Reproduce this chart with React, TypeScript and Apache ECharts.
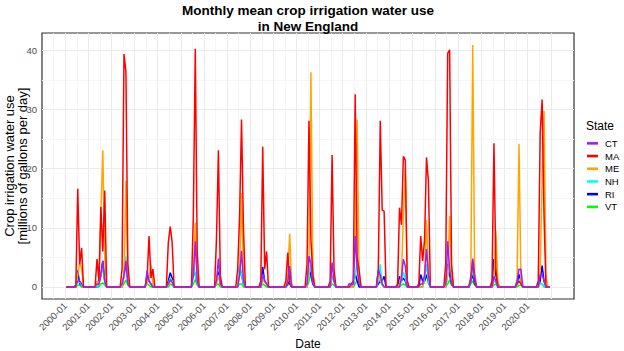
import React, { useEffect, useRef } from 'react';
import * as echarts from 'echarts';

const FONT = '"Liberation Sans", Arial, Helvetica, sans-serif';

const TITLE = 'Monthly mean crop irrigation water use';
const SUBTITLE = 'in New England';
const Y_TITLE_1 = 'Crop irrigation water use';
const Y_TITLE_2 = '[millions of gallons per day]';
const X_TITLE = 'Date';
const LEGEND_TITLE = 'State';

const STATES = ['CT', 'MA', 'ME', 'NH', 'RI', 'VT'];
const STATE_COLORS = ['#A020F0', '#FF0000', '#FFA500', '#00FFFF', '#0000FF', '#00FF00'];

const TICK_LABELS = [
  '2000-01', '2001-01', '2002-01', '2003-01', '2004-01', '2005-01', '2006-01',
  '2007-01', '2008-01', '2009-01', '2010-01', '2011-01', '2012-01', '2013-01',
  '2014-01', '2015-01', '2016-01', '2017-01', '2018-01', '2019-01', '2020-01',
];
const Y_TICKS = [0, 10, 20, 30, 40];

// monthly values (Jan..Dec), one row per year 2000..2020
const CT = [
  [0, 0, 0, 0, 0, 0.3, 1, 1, 0.5, 0, 0, 0],
  [0, 0, 0, 0, 0.5, 0.5, 2, 4.4, 1, 0, 0, 0],
  [0, 0, 0, 0, 0, 0.5, 2, 4.4, 0.5, 0, 0, 0],
  [0, 0, 0, 0, 0, 0, 2.8, 1, 0.5, 0, 0, 0],
  [0, 0, 0, 0, 0, 0.5, 1.2, 0.8, 0, 0, 0, 0],
  [0, 0, 0, 0, 0, 0, 2, 7.7, 1, 0, 0, 0],
  [0, 0, 0, 0, 0, 0, 1, 4.8, 0.5, 0, 0, 0],
  [0, 0, 0, 0, 0, 0, 2, 6.1, 1, 0, 0, 0],
  [0, 0, 0, 0, 0, 0, 2.2, 1, 0.5, 0, 0, 0],
  [0, 0, 0, 0, 0, 0, 0, 1, 3.5, 0, 0, 0],
  [0, 0, 0, 0, 0, 0.5, 5.2, 4, 0.5, 0, 0, 0],
  [0, 0, 0, 0, 0, 0, 4.1, 1, 0, 0, 0, 0],
  [0, 0, 0, 0.6, 0.3, 0.5, 8.6, 3, 0.5, 0, 0, 0],
  [0, 0, 0, 0, 0, 0, 2.9, 2, 0.5, 0, 0, 0],
  [0, 0, 0, 0, 0, 0, 1.5, 4.7, 3.5, 0, 0, 0],
  [0, 0, 0, 0, 0.5, 0.5, 2, 6.4, 2, 0, 0, 0],
  [0, 0, 0, 0, 0, 0.5, 7.7, 3, 0.5, 0, 0, 0],
  [0, 0, 0, 0, 0, 0, 1, 4.8, 2, 0, 0, 0],
  [0, 0, 0, 0, 0, 0, 1.8, 1, 0, 0, 0, 0],
  [0, 0, 0, 0, 0, 0, 1, 3, 3, 0, 0, 0],
  [0, 0, 0, 0, 0, 0, 2.1, 2.1, 1, 0, 0, 0],
];
const MA = [
  [0, 0, 0, 0, 0, 0, 16.6, 3.8, 6.6, 0, 0, 0],
  [0, 0, 0, 0, 4.7, 1, 13.5, 6, 16.3, 0, 0, 0],
  [0, 0, 0, 0, 0, 3, 39.4, 36.4, 4, 0, 0, 0],
  [0, 0, 0, 0, 0, 0, 1.5, 8.6, 1.5, 3.0, 0, 0],
  [0, 0, 0, 0, 0, 7.5, 10.2, 7.5, 0, 0, 0, 0],
  [0, 0, 0, 0, 0, 0, 12, 40.3, 6, 0, 0, 0],
  [0, 0, 0, 0, 0, 0, 8, 23.1, 2, 0, 0, 0],
  [0, 0, 0, 0, 0, 3, 12, 28.3, 10, 0, 0, 0],
  [0, 0, 0, 0, 0, 1, 23.7, 3, 6, 0, 0, 0],
  [0, 0, 0, 0, 0, 0, 1, 5.8, 0.5, 0, 0, 0],
  [0, 0, 0, 0, 0, 4, 28.1, 8, 2, 0, 0, 0],
  [0, 0, 0, 0, 0, 1, 22.3, 3, 0, 0, 0, 0],
  [0, 0, 0, 0, 0.5, 1, 32.6, 5, 3, 0, 0, 0],
  [0, 0, 0, 0, 0, 0, 3, 28.1, 13.0, 12.8, 0, 0],
  [0, 0, 0, 0, 0.5, 13.4, 10.5, 22.1, 21.4, 1, 0, 0],
  [0, 0, 0, 0.5, 8.6, 4.4, 8, 21.9, 17.9, 0, 0, 0],
  [0, 0, 0, 0, 0, 4, 39.5, 40.1, 4, 0, 0, 0],
  [0, 0, 0, 0, 0, 0, 1.5, 4.4, 1, 0, 0, 0],
  [0, 0, 0, 0, 0, 1, 24.3, 3, 0, 0, 0, 0],
  [0, 0, 0, 0, 0, 0, 0.5, 1, 0.5, 0, 0, 0],
  [0, 0, 0, 0, 0, 1, 26, 31.7, 12, 0, 0, 0],
];
const ME = [
  [0, 0, 0, 0, 0, 0, 2, 4.1, 3, 0, 0, 0],
  [0, 0, 0, 0, 1, 0.5, 12, 23.1, 5, 0, 0, 0],
  [0, 0, 0, 0, 0, 0, 2, 18, 1, 0, 0, 0],
  [0, 0, 0, 0, 0, 0, 0.5, 1.5, 3.8, 0.5, 0, 0],
  [0, 0, 0, 0, 0, 0.5, 1, 0.8, 0, 0, 0, 0],
  [0, 0, 0, 0, 0, 0, 2, 10.9, 1, 0, 0, 0],
  [0, 0, 0, 0, 0, 0, 0.5, 1.8, 0.5, 0, 0, 0],
  [0, 0, 0, 0, 0, 0, 2, 15.9, 2, 0, 0, 0],
  [0, 0, 0, 0, 0, 0, 1, 1, 0.5, 0, 0, 0],
  [0, 0, 0, 0, 0, 0, 0, 2, 9.0, 0.5, 0, 0],
  [0, 0, 0, 0, 0, 0, 3, 36.3, 3, 0, 0, 0],
  [0, 0, 0, 0, 0, 0, 2, 1.5, 0, 0, 0, 0],
  [0, 0, 0, 0, 0, 0, 8, 28.3, 2, 0, 0, 0],
  [0, 0, 0, 0, 0, 0, 2.9, 1, 0.5, 0, 0, 0],
  [0, 0, 0, 0, 0, 0.5, 2, 12, 20.1, 1, 0, 0],
  [0, 0, 0, 0, 0, 0, 2, 11.3, 2, 0, 0, 0],
  [0, 0, 0, 0, 0, 0, 2, 12, 2, 0, 0, 0],
  [0, 0, 0, 0, 0, 0, 2, 40.9, 2, 0, 0, 0],
  [0, 0, 0, 0, 0, 0, 1, 9.6, 1, 0, 0, 0],
  [0, 0, 0, 0, 0, 0, 1, 24.2, 1, 0, 0, 0],
  [0, 0, 0, 0, 0, 0, 3, 18, 29.8, 2, 0, 0],
];
const NH = [
  [0, 0, 0, 0, 0, 0, 1, 0.8, 0.3, 0, 0, 0],
  [0, 0, 0, 0, 0, 0.5, 2, 3.2, 1, 0, 0, 0],
  [0, 0, 0, 0, 0, 0, 2, 5.2, 1, 0, 0, 0],
  [0, 0, 0, 0, 0, 0, 1.5, 1.2, 0.5, 0, 0, 0],
  [0, 0, 0, 0, 0, 0.5, 1.5, 1, 0, 0, 0, 0],
  [0, 0, 0, 0, 0, 0, 3.9, 2, 0.5, 0, 0, 0],
  [0, 0, 0, 0, 0, 0, 1, 2, 0.5, 0, 0, 0],
  [0, 0, 0, 0, 0, 0, 3.8, 2, 0.5, 0, 0, 0],
  [0, 0, 0, 0, 0, 0, 2, 1, 0.5, 0, 0, 0],
  [0, 0, 0, 0, 0, 0, 0, 1, 2, 0, 0, 0],
  [0, 0, 0, 0, 0, 0, 2, 3.8, 1, 0, 0, 0],
  [0, 0, 0, 0, 0, 0, 1.5, 1, 0, 0, 0, 0],
  [0, 0, 0, 0, 0, 0, 2, 4.1, 1, 0, 0, 0],
  [0, 0, 0, 0, 0, 0, 1, 3.8, 0.5, 0, 0, 0],
  [0, 0, 0, 0, 0, 0, 1, 2.5, 1.5, 0, 0, 0],
  [0, 0, 0, 0, 0, 0, 1.5, 3.8, 1, 0, 0, 0],
  [0, 0, 0, 0, 0, 0, 2, 3.8, 1, 0, 0, 0],
  [0, 0, 0, 0, 0, 0, 1, 3.2, 1, 0, 0, 0],
  [0, 0, 0, 0, 0, 0, 1, 0.8, 0, 0, 0, 0],
  [0, 0, 0, 0, 0, 0, 0.5, 1, 0.5, 0, 0, 0],
  [0, 0, 0, 0, 0, 0, 0.5, 0.5, 0.3, 0, 0, 0],
];
const RI = [
  [0, 0, 0, 0, 0, 0, 2.8, 0.5, 0.3, 0, 0, 0],
  [0, 0, 0, 0, 0, 0.5, 2, 4.4, 1, 0, 0, 0],
  [0, 0, 0, 0, 0, 0, 2, 4, 1, 0, 0, 0],
  [0, 0, 0, 0, 0, 0, 2, 1, 0.5, 0, 0, 0],
  [0, 0, 0, 0, 0, 1, 2.4, 1.5, 0, 0, 0, 0],
  [0, 0, 0, 0, 0, 0, 3.2, 2, 0.5, 0, 0, 0],
  [0, 0, 0, 0, 0, 0, 1, 2.6, 0.5, 0, 0, 0],
  [0, 0, 0, 0, 0, 0, 3.5, 2, 0.5, 0, 0, 0],
  [0, 0, 0, 0, 0, 0, 3.4, 1, 0.5, 0, 0, 0],
  [0, 0, 0, 0, 0, 0, 0, 0.5, 1, 0, 0, 0],
  [0, 0, 0, 0, 0, 0, 3, 2, 0.5, 0, 0, 0],
  [0, 0, 0, 0, 0, 0, 2, 1, 0, 0, 0, 0],
  [0, 0, 0, 0, 0, 0, 2.3, 1, 0, 0, 0, 0],
  [0, 0, 0, 0, 0, 0, 0.5, 1, 1, 1.8, 0, 0],
  [0, 0, 0, 0, 0, 1.8, 1, 1.5, 1, 0, 0, 0],
  [0, 0, 0, 0, 2.1, 1, 1, 2, 1, 0, 0, 0],
  [0, 0, 0, 0, 0, 0, 3.9, 2, 0.5, 0, 0, 0],
  [0, 0, 0, 0, 0, 0, 1, 2, 0.5, 0, 0, 0],
  [0, 0, 0, 0, 0, 0, 4.7, 2, 0.5, 0, 0, 0],
  [0, 0, 0, 0, 0, 0, 0.5, 2.1, 1, 0, 0, 0],
  [0, 0, 0, 0, 0, 0, 1, 3.6, 1, 0, 0, 0],
];
const VT = [
  [0, 0, 0, 0, 0, 0, 0.3, 0.3, 0, 0, 0, 0],
  [0, 0, 0, 0, 0, 0, 0.5, 0.7, 0.3, 0, 0, 0],
  [0, 0, 0, 0, 0, 0, 0.5, 1.2, 0.3, 0, 0, 0],
  [0, 0, 0, 0, 0, 0, 0.5, 0.3, 0, 0, 0, 0],
  [0, 0, 0, 0, 0, 0, 0.5, 0.3, 0, 0, 0, 0],
  [0, 0, 0, 0, 0, 0, 0.5, 1.2, 0.3, 0, 0, 0],
  [0, 0, 0, 0, 0, 0, 0.3, 0.5, 0, 0, 0, 0],
  [0, 0, 0, 0, 0, 0, 0.5, 0.5, 0, 0, 0, 0],
  [0, 0, 0, 0, 0, 0, 0.5, 0.3, 0, 0, 0, 0],
  [0, 0, 0, 0, 0, 0, 0, 0.3, 0.5, 0, 0, 0],
  [0, 0, 0, 0, 0, 0, 1, 2.2, 0.5, 0, 0, 0],
  [0, 0, 0, 0, 0, 0, 0.5, 0.3, 0, 0, 0, 0],
  [0, 0, 0, 0, 0, 0, 0.5, 1.2, 0.3, 0, 0, 0],
  [0, 0, 0, 0, 0, 0, 0.5, 1, 0.3, 0, 0, 0],
  [0, 0, 0, 0, 0, 0, 0.3, 0.5, 0.3, 0, 0, 0],
  [0, 0, 0, 0, 0, 0, 1, 2.1, 0.5, 0, 0, 0],
  [0, 0, 0, 0, 0, 0, 0.5, 1.2, 0.3, 0, 0, 0],
  [0, 0, 0, 0, 0, 0, 0.5, 1, 0.3, 0, 0, 0],
  [0, 0, 0, 0, 0, 0, 0.3, 0.5, 0, 0, 0, 0],
  [0, 0, 0, 0, 0, 0, 0, 0.3, 0.3, 0, 0, 0],
  [0, 0, 0, 0, 0, 0, 0.5, 0.5, 0, 0, 0, 0],
];

const STATE_ROWS = [CT, MA, ME, NH, RI, VT];

// x = months since 2000-01-01, each value placed mid-month
function toPoints(rows: number[][]) {
  const out: number[][] = [];
  rows.forEach((row, yi) => row.forEach((v, m) => out.push([yi * 12 + m + 0.5, v])));
  return out;
}

const W = 624;
const H = 351;
const GRID = { left: 42, top: 33, right: 50, bottom: 52 };

export default function App() {
  const ref = useRef<HTMLDivElement>(null);

  useEffect(() => {
    if (!ref.current) return;
    const chart = echarts.init(ref.current, undefined, { renderer: 'svg', width: W, height: H });

    const allPts = STATE_ROWS.map(toPoints);
    const xs = allPts[0].map((p) => p[0]);
    const xMinData = Math.min(...xs);
    const xMaxData = Math.max(...xs);
    const xPad = (xMaxData - xMinData) * 0.05;
    let yMaxData = 0;
    allPts.forEach((pts) => pts.forEach((p) => { if (p[1] > yMaxData) yMaxData = p[1]; }));
    const yPad = yMaxData * 0.05;

    const xTickVals = TICK_LABELS.map((_, k) => k * 12);
    const xMajor: number[] = [];
    const xMinor: number[] = [];
    for (let k = 0; k <= TICK_LABELS.length; k++) xMajor.push(k * 12);
    for (let k = -1; k < TICK_LABELS.length; k++) xMinor.push(k * 12 + 6);
    const yMinor = Y_TICKS.slice(0, -1).map((v) => v + 5);

    const majorStyle = { color: '#EBEBEB', width: 1, type: 'solid' };
    const minorStyle = { color: '#F4F4F4', width: 0.8, type: 'solid' };

    const gridLines = [
      ...xMinor.map((v) => ({ xAxis: v, lineStyle: minorStyle })),
      ...yMinor.map((v) => ({ yAxis: v, lineStyle: minorStyle })),
      ...xMajor.map((v) => ({ xAxis: v, lineStyle: majorStyle })),
      ...Y_TICKS.map((v) => ({ yAxis: v, lineStyle: majorStyle })),
    ];

    const order = [5, 4, 3, 2, 1, 0];
    const lineSeries = order.map((i) => ({
      type: 'line',
      name: STATES[i],
      data: allPts[i],
      showSymbol: false,
      symbol: 'none',
      smooth: false,
      z: 3,
      lineStyle: { color: STATE_COLORS[i], width: 1.5 },
      itemStyle: { color: STATE_COLORS[i] },
      emphasis: { disabled: true },
    }));

    const midX = GRID.left + (W - GRID.left - GRID.right) / 2;
    const midY = GRID.top + (H - GRID.top - GRID.bottom) / 2;

    chart.setOption({
      animation: false,
      textStyle: { fontFamily: FONT },
      grid: {
        ...GRID,
        show: true,
        backgroundColor: '#FFFFFF',
        borderColor: '#333333',
        borderWidth: 1.2,
        containLabel: false,
      },
      xAxis: {
        type: 'value',
        min: xMinData - xPad,
        max: xMaxData + xPad,
        axisLine: { show: false },
        splitLine: { show: false },
        axisTick: { show: true, customValues: xTickVals, length: 3, lineStyle: { color: '#333333' } },
        axisLabel: {
          customValues: xTickVals,
          formatter: (v: number) => TICK_LABELS[Math.round(v / 12)] ?? '',
          rotate: 45,
          fontSize: 9.5,
          color: '#4D4D4D',
          margin: 5,
          fontFamily: FONT,
        },
      },
      yAxis: {
        type: 'value',
        min: -yPad,
        max: yMaxData + yPad,
        axisLine: { show: false },
        splitLine: { show: false },
        axisTick: { show: true, customValues: Y_TICKS, length: 3, lineStyle: { color: '#333333' } },
        axisLabel: {
          customValues: Y_TICKS,
          fontSize: 9.5,
          color: '#4D4D4D',
          margin: 5,
          fontFamily: FONT,
        },
      },
      legend: {
        data: STATES.map((s) => ({ name: s, icon: 'rect' })),
        orient: 'vertical',
        left: 587,
        top: 137,
        padding: 0,
        itemGap: 0,
        itemWidth: 11,
        itemHeight: 2.6,
        selectedMode: false,
        textStyle: {
          fontSize: 9.5,
          lineHeight: 12.7,
          color: '#000000',
          fontFamily: FONT,
          padding: [0, 0, 0, 2],
        },
      },
      graphic: [
        {
          type: 'text',
          x: midX,
          y: 2,
          style: {
            text: TITLE + '\n' + SUBTITLE,
            textAlign: 'center',
            textVerticalAlign: 'top',
            fontSize: 13.5,
            fontWeight: 'bold',
            lineHeight: 16,
            fontFamily: FONT,
            fill: '#000000',
          },
        },
        {
          type: 'text',
          x: 9,
          y: midY,
          rotation: Math.PI / 2,
          style: {
            text: Y_TITLE_1,
            textAlign: 'center',
            textVerticalAlign: 'middle',
            fontSize: 13,
            fontFamily: FONT,
            fill: '#000000',
          },
        },
        {
          type: 'text',
          x: 22.5,
          y: midY,
          rotation: Math.PI / 2,
          style: {
            text: Y_TITLE_2,
            textAlign: 'center',
            textVerticalAlign: 'middle',
            fontSize: 13,
            fontFamily: FONT,
            fill: '#000000',
          },
        },
        {
          type: 'text',
          x: midX,
          y: 344,
          style: {
            text: X_TITLE,
            textAlign: 'center',
            textVerticalAlign: 'middle',
            fontSize: 12,
            fontFamily: FONT,
            fill: '#000000',
          },
        },
        {
          type: 'text',
          x: 586,
          y: 126,
          style: {
            text: LEGEND_TITLE,
            textAlign: 'left',
            textVerticalAlign: 'middle',
            fontSize: 12,
            fontFamily: FONT,
            fill: '#000000',
          },
        },
      ],
      series: [
        {
          type: 'line',
          name: '__grid',
          data: [],
          silent: true,
          z: 1,
          markLine: {
            silent: true,
            z: 1,
            animation: false,
            symbol: ['none', 'none'],
            label: { show: false },
            emphasis: { disabled: true },
            data: gridLines,
          },
        },
        ...lineSeries,
      ],
    });

    return () => chart.dispose();
  }, []);

  return (
    <div
      ref={ref}
      style={{ position: 'absolute', left: 0, top: 0, width: W, height: H, background: '#fff' }}
    />
  );
}
